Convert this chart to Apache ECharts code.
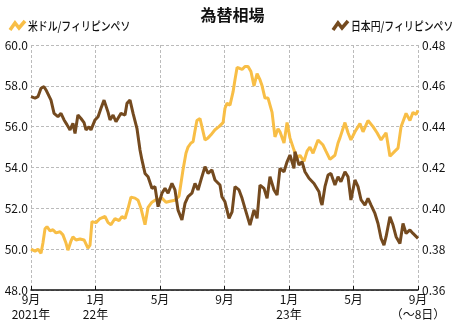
<!DOCTYPE html>
<html>
<head>
<meta charset="utf-8">
<title>為替相場</title>
<script src="https://cdn.jsdelivr.net/npm/echarts@6/dist/echarts.min.js"></script>
<style>
  html, body { margin: 0; padding: 0; background: #fff; }
  #chart { width: 465px; height: 323px; }
</style>
</head>
<body>
<div id="chart"></div>
<script>
// x = months since 2021-09 (0..24)
var tickLabels = ['9月\n2021年', '1月\n22年', '5月', '9月', '1月\n23年', '5月', '9月\n（～8日）'];
var seriesNames = ['米ドル/フィリピンペソ', '日本円/フィリピンペソ'];

var usdMonths = [0, 0.25, 0.43, 0.62, 0.74, 0.87, 0.99, 1.18, 1.36, 1.55, 1.80, 1.98, 2.17, 2.29, 2.48, 2.60, 2.79, 3.04, 3.29, 3.53,
  3.66, 3.78, 4.03, 4.28, 4.59, 4.78, 4.96, 5.21, 5.46, 5.64, 5.83, 6.02, 6.20, 6.45, 6.64, 6.82, 7.07, 7.26, 7.50, 7.69,
  7.94, 8.12, 8.37, 8.62, 8.93, 9.18, 9.43, 9.61, 9.74, 9.92, 10.05, 10.17, 10.29, 10.48, 10.60, 10.79, 10.98, 11.16, 11.41, 11.66,
  11.91, 12.03, 12.16, 12.34, 12.53, 12.65, 12.78, 12.96, 13.09, 13.27, 13.46, 13.64, 13.83, 14.02, 14.20, 14.33, 14.51, 14.70, 14.95, 15.13,
  15.32, 15.44, 15.69, 15.88, 16.06, 16.31, 16.50, 16.68, 16.93, 17.12, 17.30, 17.49, 17.61, 17.80, 17.92, 18.11, 18.29, 18.54, 18.85, 19.04,
  19.16, 19.47, 19.66, 19.84, 20.09, 20.40, 20.59, 20.90, 21.21, 21.46, 21.71, 22.02, 22.26, 22.57, 22.76, 22.95, 23.26, 23.50, 23.69, 23.88, 24.0];
var usdRates = [50.0, 49.9, 50.0, 49.8, 50.3, 51.0, 51.1, 50.9, 50.95, 50.8, 50.85, 50.7, 50.3, 49.95, 50.4, 50.6, 50.45, 50.5, 50.45, 50.05,
  50.2, 51.35, 51.3, 51.5, 51.6, 51.3, 51.2, 51.5, 51.4, 51.6, 51.5, 52.0, 52.55, 52.5, 52.4, 52.0, 51.2, 52.05, 52.3, 52.4,
  52.45, 52.5, 52.3, 52.35, 52.4, 52.6, 53.9, 54.7, 55.0, 55.2, 55.26, 55.8, 56.3, 56.4, 56.35, 55.35, 55.45, 55.6, 55.85, 56.0,
  56.2, 56.9, 57.15, 57.05, 57.7, 58.3, 58.9, 58.85, 58.8, 58.95, 58.95, 58.7, 58.0, 58.6, 58.3, 58.0, 57.4, 57.4, 56.7, 55.5,
  55.9, 55.75, 55.2, 56.2, 55.45, 54.85, 54.45, 54.6, 54.3, 54.8, 55.0, 54.7, 54.95, 55.35, 55.35, 55.1, 54.8, 54.4, 54.6, 55.2,
  55.45, 56.2, 55.7, 55.35, 55.75, 56.15, 55.75, 56.3, 56.0, 55.7, 55.35, 55.7, 54.55, 54.8, 54.95, 56.0, 56.65, 56.3, 56.7, 56.6, 56.8];

var jpyMonths = [0, 0.25, 0.43, 0.62, 0.81, 0.93, 1.05, 1.24, 1.43, 1.67, 1.86, 2.05, 2.23, 2.42, 2.60, 2.73, 2.91, 3.10, 3.29, 3.41,
  3.60, 3.72, 3.97, 4.16, 4.34, 4.53, 4.65, 4.78, 4.90, 5.09, 5.27, 5.46, 5.58, 5.83, 5.95, 6.14, 6.33, 6.57, 6.76, 6.88,
  7.07, 7.26, 7.50, 7.69, 7.88, 8.12, 8.31, 8.50, 8.74, 8.93, 9.12, 9.36, 9.55, 9.74, 9.98, 10.17, 10.36, 10.60, 10.79, 10.98,
  11.22, 11.41, 11.72, 11.84, 12.03, 12.28, 12.47, 12.65, 12.90, 13.09, 13.27, 13.58, 13.83, 14.02, 14.20, 14.45, 14.64, 14.82, 15.07, 15.26,
  15.44, 15.69, 15.88, 16.06, 16.31, 16.37, 16.62, 16.81, 16.99, 17.24, 17.55, 17.86, 17.98, 18.05, 18.23, 18.42, 18.60, 18.85, 19.04, 19.22,
  19.47, 19.66, 19.84, 20.09, 20.28, 20.47, 20.71, 20.90, 21.09, 21.33, 21.52, 21.71, 21.89, 22.02, 22.26, 22.45, 22.64, 22.88, 23.07, 23.26,
  23.50, 23.69, 24.0];
var jpyRates = [0.4547, 0.4540, 0.4547, 0.4588, 0.4596, 0.4580, 0.4571, 0.4530, 0.4465, 0.4449, 0.4465, 0.4433, 0.4410, 0.4384, 0.4416, 0.4367, 0.4457, 0.4440, 0.4420, 0.4384,
  0.4400, 0.4384, 0.4433, 0.4449, 0.4490, 0.4530, 0.4522, 0.4470, 0.4433, 0.4457, 0.4424, 0.4450, 0.4465, 0.4457, 0.4514, 0.4530, 0.4465, 0.4392, 0.4286, 0.4237,
  0.4171, 0.4155, 0.4098, 0.4106, 0.4008, 0.4074, 0.4098, 0.4074, 0.4122, 0.4090, 0.3991, 0.3943, 0.4024, 0.4057, 0.4074, 0.4122, 0.4090, 0.4155, 0.4204, 0.4171,
  0.4188, 0.4139, 0.4114, 0.4057, 0.4032, 0.3951, 0.3983, 0.4106, 0.4090, 0.4049, 0.4000, 0.3918, 0.3992, 0.3951, 0.4114, 0.4098, 0.4049, 0.4155, 0.4090, 0.4065,
  0.4196, 0.4179, 0.4228, 0.4261, 0.4196, 0.4277, 0.4212, 0.4228, 0.4179, 0.4147, 0.4122, 0.4081, 0.4032, 0.4016, 0.4106, 0.4163, 0.4171, 0.4114, 0.4155, 0.4130,
  0.4179, 0.4155, 0.4041, 0.4139, 0.4106, 0.4041, 0.4016, 0.4049, 0.4016, 0.3975, 0.3926, 0.3853, 0.3820, 0.3861, 0.3959, 0.3918, 0.3861, 0.3828, 0.3926, 0.3877,
  0.3894, 0.3877, 0.3853];

function pairs(xs, ys) {
  var out = [];
  for (var i = 0; i < xs.length; i++) out.push([xs[i], ys[i]]);
  return out;
}

var FONT = '"Liberation Sans Narrow", "Noto Sans CJK JP", sans-serif';
var JP_FONT = '"Noto Sans CJK JP", sans-serif';
var USD_COLOR = '#f8be46';
var JPY_COLOR = '#744a1f';

// legend drawn as graphic so the text can be condensed like the original
function legendItem(x, color, name) {
  return {
    type: 'group', x: x, y: 26,
    children: [
      { type: 'polyline', shape: { points: [[0, 4], [5, -3], [9, 2], [15, -5]] },
        style: { stroke: color, lineWidth: 3.5, fill: null } },
      { type: 'text', x: 18, y: 0, scaleX: 0.82,
        style: { text: name, font: '500 12px ' + JP_FONT, fill: '#111', verticalAlign: 'middle' } }
    ]
  };
}

var chart = echarts.init(document.getElementById('chart'));
var option = {
  animation: false,
  textStyle: { fontFamily: FONT },
  title: {
    text: '為替相場',
    left: 'center',
    top: 2,
    textStyle: { fontSize: 16, fontWeight: 'bold', color: '#111', fontFamily: JP_FONT }
  },
  graphic: [
    legendItem(10, USD_COLOR, seriesNames[0]),
    legendItem(333, JPY_COLOR, seriesNames[1])
  ],
  grid: { left: 31, right: 47, top: 45, bottom: 33 },
  xAxis: {
    type: 'value',
    min: 0, max: 24, interval: 4,
    axisLine: { show: true, lineStyle: { color: '#111', width: 1.5 } },
    axisTick: { show: true, inside: true, length: 4, lineStyle: { color: '#111' } },
    splitLine: { show: true, lineStyle: { color: '#bbb', type: [3, 2] } },
    axisLabel: {
      color: '#111', fontSize: 12, lineHeight: 15, margin: 2,
      fontFamily: JP_FONT,
      formatter: function (v) { return tickLabels[Math.round(v / 4)]; }
    }
  },
  yAxis: [
    {
      type: 'value',
      min: 48, max: 60, interval: 2,
      axisLine: { show: false },
      axisTick: { show: false },
      splitLine: { show: true, lineStyle: { color: '#bbb', type: [3, 2] } },
      axisLabel: { color: '#111', fontSize: 12, margin: 3, formatter: function (v) { return v.toFixed(1); } }
    },
    {
      type: 'value',
      min: 0.36, max: 0.48, interval: 0.02,
      axisLine: { show: false },
      axisTick: { show: false },
      splitLine: { show: false },
      axisLabel: { color: '#111', fontSize: 12, margin: 4, formatter: function (v) { return v.toFixed(2); } }
    }
  ],
  series: [
    {
      name: seriesNames[0],
      type: 'line',
      yAxisIndex: 0,
      data: pairs(usdMonths, usdRates),
      showSymbol: false,
      lineStyle: { color: USD_COLOR, width: 3 },
      itemStyle: { color: USD_COLOR }
    },
    {
      name: seriesNames[1],
      type: 'line',
      yAxisIndex: 1,
      data: pairs(jpyMonths, jpyRates),
      showSymbol: false,
      lineStyle: { color: JPY_COLOR, width: 3 },
      itemStyle: { color: JPY_COLOR }
    }
  ]
};
chart.setOption(option);
</script>
</body>
</html>
